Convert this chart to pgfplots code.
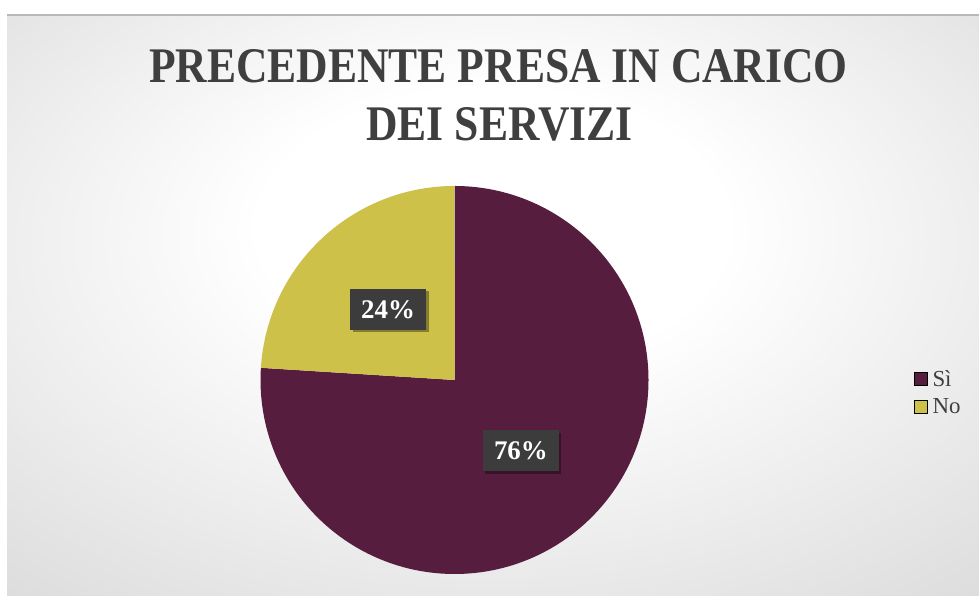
\documentclass[border=0pt]{standalone}
\usepackage{pgfplots}
\pgfplotsset{compat=1.18}
\usepackage{pgfplotstable}
\usepackage{fontspec}
\setmainfont{Liberation Serif}
\usetikzlibrary{shadows}

\definecolor{siColor}{HTML}{561D3E}
\definecolor{noColor}{HTML}{CDC14A}
\definecolor{titleGray}{HTML}{3F3F3F}
\definecolor{labelBox}{HTML}{3C3C3C}

% light centre, grey edges
\pgfdeclareradialshading{bgshade}{\pgfpoint{0bp}{8bp}}{%
  color(0bp)=(white); color(12bp)=(white); color(45bp)=(black!17); color(72bp)=(black!27)}

\tikzset{lbl/.style={fill=labelBox, text=white,
    font=\bfseries\fontsize{27}{30}\selectfont,
    minimum width=76bp, minimum height=41bp, inner sep=0pt,
    drop shadow={shadow xshift=2.5bp, shadow yshift=-2.5bp, fill=black, opacity=0.35}}}

\pgfplotstableread{
answer value
Si 76
No 24
}\piedata

% slice angles from the table (clockwise from 12 o'clock)
\pgfplotstablegetelem{0}{value}\of\piedata\let\vSi\pgfplotsretval
\pgfplotstablegetelem{1}{value}\of\piedata\let\vNo\pgfplotsretval
\pgfmathsetmacro\tot{\vSi+\vNo}
\pgfmathsetmacro\fSi{\vSi/\tot}
\pgfmathsetmacro\fNo{\vNo/\tot}
\pgfmathsetmacro\aM{90-360*\fSi}
\pgfmathsetmacro\aE{\aM-360*\fNo}
\pgfmathsetmacro\mSi{(90+\aM)/2}
\pgfmathsetmacro\mNo{(\aM+\aE)/2}
\pgfmathtruncatemacro\pSi{round(100*\fSi)}
\pgfmathtruncatemacro\pNo{round(100*\fNo)}

\begin{document}
\begin{tikzpicture}[x=1bp,y=1bp]
\fill[white] (0,0) rectangle (979,596);
\shade[shading=bgshade] (7,0) rectangle (979,581);
\draw[black!28, line width=1.5bp] (7,581) -- (979,581);

\node[anchor=base, text=titleGray, inner sep=0pt, font=\bfseries\fontsize{50}{60}\selectfont]
  at (498.5,513) {\scalebox{0.875}[1]{PRECEDENTE PRESA IN CARICO}};
\node[anchor=base, text=titleGray, inner sep=0pt, font=\bfseries\fontsize{50}{60}\selectfont]
  at (499.5,455) {\scalebox{0.875}[1]{DEI SERVIZI}};

\begin{axis}[at={(454.5bp,216bp)}, anchor=center, scale only axis, hide axis,
    x=194bp, y=194bp, xmin=-1.1, xmax=1.1, ymin=-1.1, ymax=1.1, clip=false,
    legend cell align=left,
    legend image code/.code={\fill[#1] (0bp,-6.5bp) rectangle (13bp,6.5bp);},
    legend style={at={(1.567,0.47)}, anchor=west, draw=none, fill=none,
      text=titleGray, font=\fontsize{23}{26}\selectfont, inner sep=4bp,
      row sep=7bp, /tikz/every odd column/.append style={column sep=3bp}}]
  \fill[siColor] (axis cs:0,0) -- (axis cs:0,1)
    arc[start angle=90, end angle=\aM, radius=194bp] -- cycle;
  \fill[noColor] (axis cs:0,0) -- (axis cs:{cos(\aM)},{sin(\aM)})
    arc[start angle=\aM, end angle=\aE, radius=194bp] -- cycle;
  \node[lbl] at (axis cs:{0.5*cos(\mSi)},{0.5*sin(\mSi)}) {\pSi\%};
  \node[lbl] at (axis cs:{0.5*cos(\mNo)},{0.5*sin(\mNo)}) {\pNo\%};
  \addlegendimage{fill=siColor}
  \addlegendentry{Sì}
  \addlegendimage{fill=noColor}
  \addlegendentry{No}
\end{axis}
\pgfresetboundingbox
\useasboundingbox (0,0) rectangle (979,596);
\end{tikzpicture}
\end{document}
